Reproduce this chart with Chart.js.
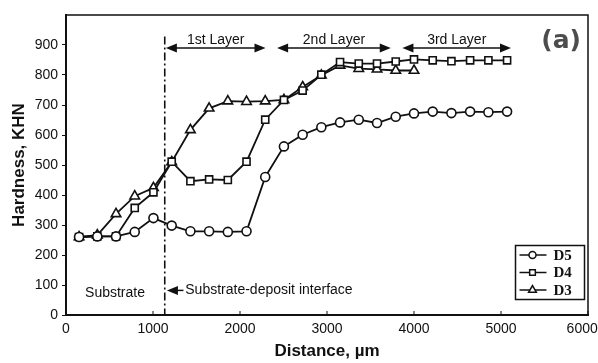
<!DOCTYPE html>
<html>
<head>
<meta charset="utf-8">
<script src="https://cdn.jsdelivr.net/npm/chart.js@4.4.1/dist/chart.umd.min.js"></script>
<style>
html, body { margin: 0; padding: 0; background: #fff; }
#wrap { width: 598px; height: 363px; position: relative; }
</style>
</head>
<body>
<div id="wrap"><canvas id="hardnessChart"></canvas></div>
<script>
// Measurement positions (µm from the surface)
const distance = [150, 360, 575, 790, 1005, 1215, 1430, 1645, 1860, 2075, 2290, 2505,
                  2720, 2935, 3150, 3365, 3575, 3790, 4000, 4215, 4430, 4645, 4855, 5070];

// Hardness readings, KHN
const d5 = [260, 262, 262, 277, 323, 298, 279, 279, 277, 279, 460, 562,
            601, 626, 642, 651, 640, 661, 672, 678, 673, 678, 676, 678];
const d4 = [260, 262, 262, 357, 409, 511, 446, 452, 450, 511, 651, 717,
            748, 801, 843, 838, 838, 845, 852, 849, 846, 849, 849, 849];
const d3 = [260, 266, 337, 396, 424, 510, 617, 689, 713, 711, 713, 717,
            760, 799, 832, 821, 819, 815, 815];

const xTicks = [0, 1000, 2000, 3000, 4000, 5000, 6000];
const yTicks = [0, 100, 200, 300, 400, 500, 600, 700, 800, 900];

// Annotations (data units)
const interfaceX = 1135;
const layers = [
    { label: '1st Layer', from: 1148, to: 2293 },
    { label: '2nd Layer', from: 2427, to: 3733 },
    { label: '3rd Layer', from: 3867, to: 5115 }
];

const toPoints = (ys) => ys.map((y, i) => ({ x: distance[i], y: y }));
const ink = '#111';
const sansFont = 'Arial, "Liberation Sans", sans-serif';

function arrowHead(ctx, x, y, dir) {
    // dir = -1 points left, 1 points right
    ctx.beginPath();
    ctx.moveTo(x, y);
    ctx.lineTo(x - dir * 11, y - 4.5);
    ctx.lineTo(x - dir * 11, y + 4.5);
    ctx.closePath();
    ctx.fill();
}

const annotations = {
    id: 'annotations',
    afterDatasetsDraw(chart) {
        const { ctx, chartArea: a, scales: { x, y } } = chart;
        ctx.save();

        // frame
        ctx.strokeStyle = ink;
        ctx.lineWidth = 1.5;
        ctx.beginPath();
        ctx.moveTo(a.left, a.top);
        ctx.lineTo(a.right, a.top);
        ctx.lineTo(a.right, a.bottom);
        ctx.stroke();

        // inner ticks on the x axis
        ctx.lineWidth = 1;
        xTicks.forEach(v => {
            const px = x.getPixelForValue(v);
            ctx.beginPath();
            ctx.moveTo(px, a.bottom);
            ctx.lineTo(px, a.bottom - 4);
            ctx.stroke();
        });

        // substrate-deposit interface
        const ix = x.getPixelForValue(interfaceX);
        ctx.lineWidth = 1.6;
        ctx.setLineDash([8, 3, 2, 3]);
        ctx.beginPath();
        ctx.moveTo(ix, y.getPixelForValue(928));
        ctx.lineTo(ix, a.bottom);
        ctx.stroke();
        ctx.setLineDash([]);

        ctx.fillStyle = ink;
        ctx.font = '14px ' + sansFont;
        ctx.textBaseline = 'middle';

        // layer arrows
        const ay = y.getPixelForValue(890);
        layers.forEach(l => {
            const x1 = x.getPixelForValue(l.from);
            const x2 = x.getPixelForValue(l.to);
            ctx.lineWidth = 1.5;
            ctx.beginPath();
            ctx.moveTo(x1 + 4, ay);
            ctx.lineTo(x2 - 4, ay);
            ctx.stroke();
            arrowHead(ctx, x1, ay, -1);
            arrowHead(ctx, x2, ay, 1);
            ctx.textAlign = 'center';
            ctx.fillText(l.label, (x1 + x2) / 2, ay - 8);
        });

        // bottom labels
        ctx.textAlign = 'left';
        ctx.fillText('Substrate', x.getPixelForValue(219), y.getPixelForValue(72));
        const iy = y.getPixelForValue(82);
        const tip = x.getPixelForValue(1160);
        ctx.beginPath();
        ctx.moveTo(tip + 4, iy);
        ctx.lineTo(x.getPixelForValue(1350), iy);
        ctx.stroke();
        arrowHead(ctx, tip, iy, -1);
        ctx.fillText('Substrate-deposit interface', x.getPixelForValue(1371), iy);

        // legend box
        const lx = 515.5, ly = 245.5, lw = 69, lh = 54;
        ctx.lineWidth = 1.5;
        ctx.strokeRect(lx, ly, lw, lh);
        ctx.font = 'bold 15px "Liberation Serif", "Times New Roman", serif';
        const rows = [255, 272.5, 290];
        chart.data.datasets.forEach((ds, i) => {
            const ry = rows[i];
            ctx.lineWidth = 1.5;
            ctx.beginPath();
            ctx.moveTo(lx + 4, ry);
            ctx.lineTo(lx + 31, ry);
            ctx.stroke();
            ctx.fillStyle = '#fff';
            ctx.strokeStyle = ink;
            ctx.lineWidth = 1.5;
            Chart.helpers.drawPoint(ctx, { pointStyle: ds.pointStyle, radius: ds.pointRadius - 1, rotation: 0, borderWidth: 1.5 }, lx + 17, ry);
            ctx.fillStyle = ink;
            ctx.fillText(ds.label, lx + 38, ry + 1);
        });

        // panel tag
        ctx.fillStyle = '#4d4d4d';
        ctx.font = 'bold 25px "DejaVu Sans", sans-serif';
        ctx.textAlign = 'right';
        ctx.fillText('(a)', 581, 41);

        ctx.restore();
    }
};

const baseSet = {
    borderColor: ink,
    borderWidth: 1.8,
    pointBackgroundColor: '#fff',
    pointBorderColor: ink,
    pointBorderWidth: 1.6,
    tension: 0,
    fill: false
};

new Chart(document.getElementById('hardnessChart'), {
    type: 'line',
    data: {
        datasets: [
            { ...baseSet, label: 'D5', data: toPoints(d5), pointStyle: 'circle', pointRadius: 4.5 },
            { ...baseSet, label: 'D4', data: toPoints(d4), pointStyle: 'rect', pointRadius: 5 },
            { ...baseSet, label: 'D3', data: toPoints(d3), pointStyle: 'triangle', pointRadius: 5.5 }
        ]
    },
    options: {
        responsive: true,
        maintainAspectRatio: false,
        animation: false,
        layout: { padding: { top: 15, right: 10, left: 0, bottom: 0 } },
        plugins: {
            legend: { display: false },
            tooltip: { enabled: false }
        },
        scales: {
            x: {
                type: 'linear',
                min: 0,
                max: 6000,
                afterBuildTicks: s => { s.ticks = xTicks.map(v => ({ value: v })); },
                afterFit: s => { s.height = 48; s.paddingLeft = 0; s.paddingRight = 0; },
                grid: { drawOnChartArea: false, drawTicks: false },
                border: { color: ink, width: 2 },
                ticks: {
                    color: ink,
                    padding: 6,
                    maxRotation: 0,
                    font: { size: 14, family: sansFont },
                    callback: v => v === 6000 ? '6000   ' : String(v)
                },
                title: {
                    display: true,
                    text: 'Distance, µm',
                    color: ink,
                    padding: { top: 0, bottom: 1 },
                    font: { size: 17, weight: 'bold', family: sansFont }
                }
            },
            y: {
                min: 0,
                max: 1000,
                afterBuildTicks: s => { s.ticks = yTicks.map(v => ({ value: v })); },
                afterFit: s => { s.width = 66; s.paddingTop = 0; s.paddingBottom = 0; },
                grid: { drawOnChartArea: false, tickLength: 4, color: ink },
                border: { color: ink, width: 2 },
                ticks: {
                    color: ink,
                    padding: 4,
                    font: { size: 14, family: sansFont }
                },
                title: {
                    display: true,
                    text: 'Hardness, KHN',
                    color: ink,
                    padding: { top: 9, bottom: 0 },
                    font: { size: 17, weight: 'bold', family: sansFont }
                }
            }
        }
    },
    plugins: [annotations]
});
</script>
</body>
</html>
